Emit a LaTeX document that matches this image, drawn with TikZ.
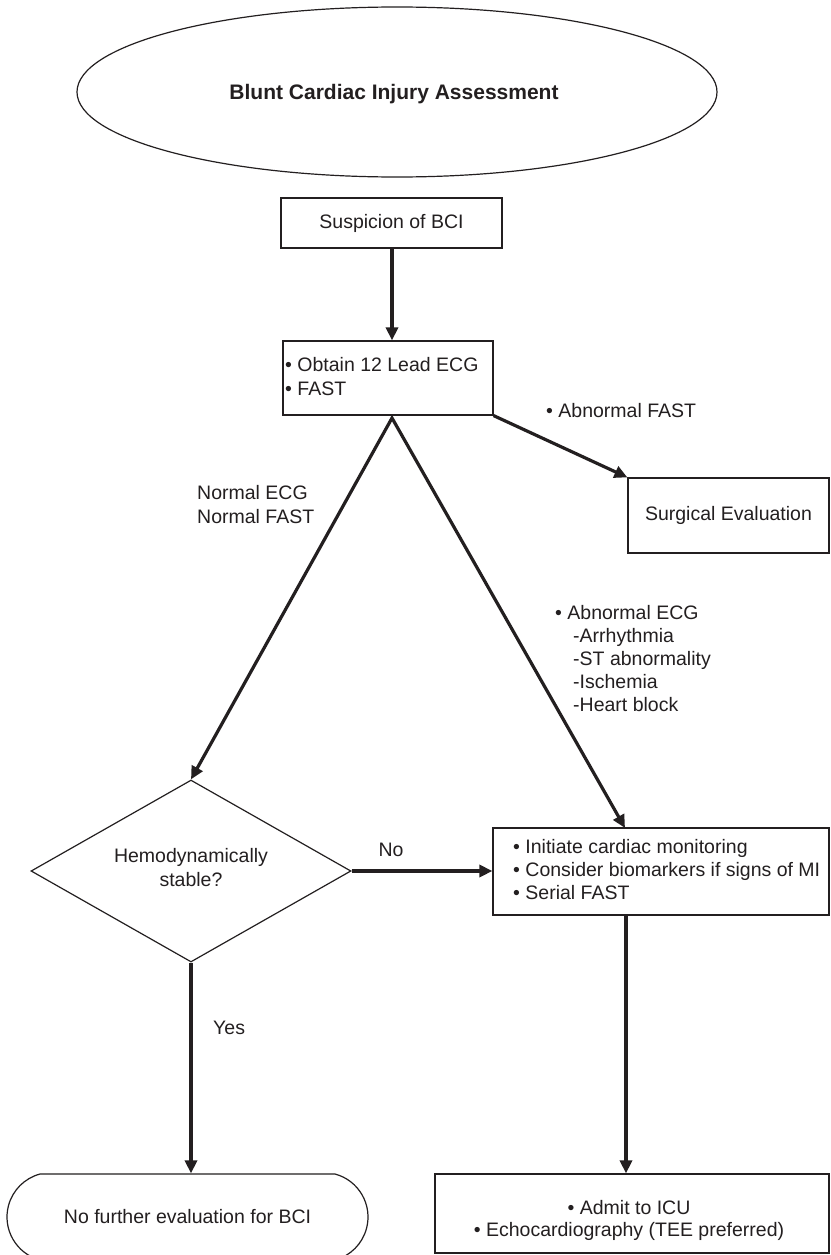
\documentclass[tikz,border=0pt]{standalone}
\usepackage{fontspec}
\setmainfont{Liberation Sans}
\usetikzlibrary{shapes.geometric,shapes.misc,arrows.meta,calc}
\definecolor{ink}{RGB}{35,31,32}
\begin{document}
\begin{tikzpicture}[x=1pt,y=-1pt,
  every node/.style={text=ink, font=\fontsize{19.5}{23.5}\selectfont},
  boxnode/.style={draw=ink, line width=1.2pt, rectangle, inner sep=0pt},
  txt/.style={inner sep=0pt, align=left},
  tip/.tip={Triangle[length=13pt,width=12pt]},
  arr/.style={draw=ink, line width=3.2pt, -tip}]
\clip (0,0) rectangle (830,1255);
\fill[white] (0,0) rectangle (830,1255);

% nodes
\node[ellipse, draw=ink, line width=1.2pt, minimum width=640pt, minimum height=170pt, inner sep=0pt] (title) at (397,92) {};
\node[font=\bfseries\fontsize{21}{25}\selectfont, inner sep=0pt] (titletext) at (394,94.5) {Blunt Cardiac Injury Assessment};
\node[boxnode, minimum width=221pt, minimum height=50pt] (sus) at (391.5,223) {Suspicion of BCI};
\node[boxnode, minimum width=210pt, minimum height=74pt] (obt) at (388,378) {};
\node[txt, anchor=west, font=\fontsize{19.5}{24}\selectfont] (obttext) at (285,376.7) {• Obtain 12 Lead ECG\\• FAST};
\node[boxnode, minimum width=201pt, minimum height=75pt] (surg) at (728.5,515.5) {Surgical Evaluation};
\node[anchor=base west, inner sep=0pt] (abfast) at (546,417) {• Abnormal FAST};
\node[txt, anchor=west, font=\fontsize{19.5}{24}\selectfont] (normal) at (197,504.9) {Normal ECG\\Normal FAST};
\node[txt, anchor=west, font=\fontsize{19.5}{23}\selectfont] (abecg) at (555,658.8)
  {• Abnormal ECG\\\hspace*{18pt}-Arrhythmia\\\hspace*{18pt}-ST abnormality\\\hspace*{18pt}-Ischemia\\\hspace*{18pt}-Heart block};
\node[diamond, draw=ink, line width=1.2pt, minimum width=320pt, minimum height=182pt, shape aspect=1.76,
      inner sep=0pt] (dia) at (191,871) {};
\node[inner sep=0pt, align=center, font=\fontsize{19.5}{24}\selectfont] (diatext) at (191,867.9) {Hemodynamically\\stable?};
\node[boxnode, minimum width=336pt, minimum height=87pt] (mon) at (661,871.5) {};
\node[txt, anchor=west, font=\fontsize{19.5}{23}\selectfont] (montext) at (513,869.7)
  {• Initiate cardiac monitoring\\• Consider biomarkers if signs of MI\\• Serial FAST};
\node[rounded rectangle, rounded rectangle arc length=150, draw=ink, line width=1.2pt,
      minimum width=361pt, minimum height=86pt, inner sep=0pt] (term) at (187.5,1217) {No further evaluation for BCI};
\node[boxnode, minimum width=394pt, minimum height=79pt] (adm) at (632,1213.5) {};
\node[inner sep=0pt, align=center, font=\fontsize{19.5}{22}\selectfont] (admtext) at (629,1220.8)
  {• Admit to ICU\\• Echocardiography (TEE preferred)};
\node[anchor=base, inner sep=0pt] (no) at (391,856) {No};
\node[anchor=base west, inner sep=0pt] (yes) at (213,1034) {Yes};

% coordinates
\coordinate (apex) at (392,418);
\coordinate (monIn) at (625,828);
\coordinate (monOut) at (626,915);

% connectors
\draw[arr] (sus.south -| apex) -- (obt.north -| apex);
\draw[arr] (obt.south east) -- (surg.north west);
\draw[draw=ink, line width=3.2pt, line join=miter, miter limit=10, tip-tip] (dia.north) -- (apex) -- (monIn);
\draw[arr] (dia.east) -- (dia.east -| mon.west);
\draw[arr] (dia.south) -- (dia.south |- term.north);
\draw[arr] (monOut) -- (monOut |- adm.north);
\end{tikzpicture}
\end{document}
